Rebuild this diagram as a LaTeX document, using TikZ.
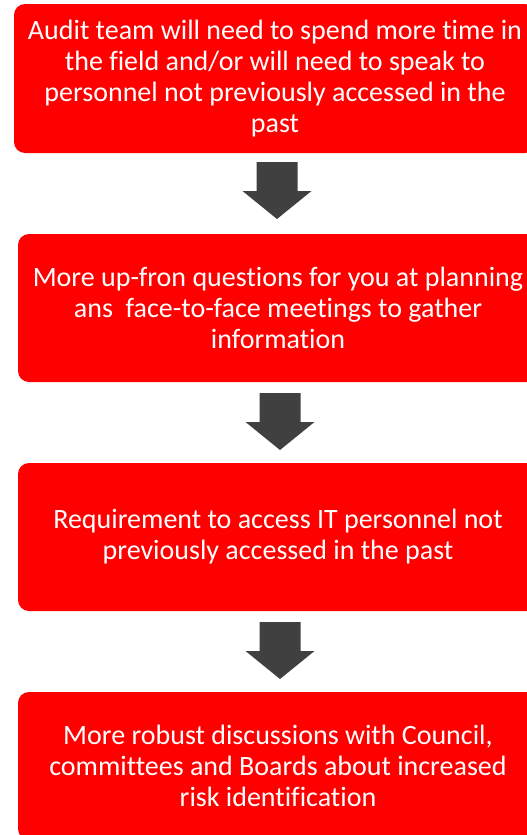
\documentclass[tikz,border=0pt]{standalone}
\usepackage{fontspec}
\setmainfont{Carlito}[Ligatures=NoCommon]
\definecolor{boxred}{HTML}{FF0000}
\definecolor{arrowgray}{HTML}{404040}
\tikzset{
  box/.style={fill=boxred, draw=none, rounded corners=11pt, text=white, align=center,
    font=\fontsize{28}{31}\selectfont, inner sep=0pt},
  downarrow/.pic={\fill[arrowgray] (-20.5,0) -- (20.5,0) -- (20.5,29) -- (34.5,29) -- (0,57) -- (-34.5,29) -- (-20.5,29) -- cycle;}
}
\begin{document}
\begin{tikzpicture}[x=1pt,y=-1pt]
\useasboundingbox (0,0) rectangle (527,835);
\clip (0,0) rectangle (527,835);
\node[box, minimum width=522pt, minimum height=149pt] (b1) at (275,78.5)
  {Audit team will need to spend more time in\\the field and/or will need to speak to\\personnel not previously accessed in the\\past};
\node[box, minimum width=520pt, minimum height=148pt] (b2) at (278,308)
  {More up-fron questions for you at planning\\ans\ \ face-to-face meetings to gather\\information};
\node[box, minimum width=520pt, minimum height=148pt] (b3) at (278,537)
  {Requirement to access IT personnel not\\previously accessed in the past};
\node[box, minimum width=520pt, minimum height=148pt] (b4) at (278,766)
  {More robust discussions with Council,\\committees and Boards about increased\\risk identification};
\coordinate (a1) at (277,162);
\coordinate (a2) at (280,393);
\coordinate (a3) at (280,622);
\pic at (a1) {downarrow};
\pic at (a2) {downarrow};
\pic at (a3) {downarrow};
\end{tikzpicture}
\end{document}
